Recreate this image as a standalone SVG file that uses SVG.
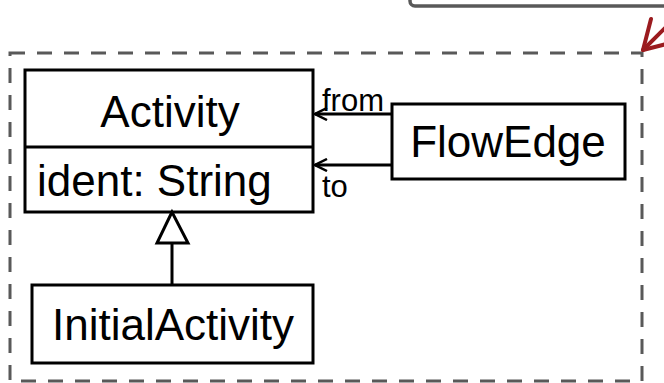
<svg xmlns="http://www.w3.org/2000/svg" width="664" height="383" viewBox="0 0 664 383">
<style>
.box{fill:#fff;stroke:#000;stroke-width:3}
.big{font-family:"Liberation Sans",Arial,sans-serif;font-size:44px;fill:#000}
.lbl{font-family:"Liberation Sans",Arial,sans-serif;font-size:31px;fill:#000}
.edge{fill:none;stroke:#000;stroke-width:3}
</style>
<defs>
<marker id="open" viewBox="0 0 14 14" refX="13" refY="7" markerWidth="14" markerHeight="14" markerUnits="userSpaceOnUse" orient="auto">
<path d="M1,1 L13,7 L1,13" fill="none" stroke="#000" stroke-width="2.5"/>
</marker>
</defs>
<rect x="410" y="-20" width="280" height="26" rx="5" fill="none" stroke="#595959" stroke-width="3.5"/>
<rect x="10" y="53" width="632" height="328" fill="none" stroke="#595959" stroke-width="3" stroke-dasharray="15 12"/>
<g id="red-arrow" fill="none" stroke="#9B1B1F" stroke-width="4" stroke-linecap="round" stroke-linejoin="round">
<line x1="643" y1="50" x2="680" y2="13"/>
<path d="M651,19 L643,50 L674,42"/>
</g>
<g id="Activity">
<rect class="box" x="25" y="70" width="288" height="142"/>
<line x1="25" y1="147" x2="313" y2="147" stroke="#000" stroke-width="3"/>
<text class="big" x="170" y="127" text-anchor="middle">Activity</text>
<text class="big" x="37" y="196">ident: String</text>
</g>
<g id="FlowEdge">
<rect class="box" x="392" y="104" width="233" height="75"/>
<text class="big" x="508" y="157" text-anchor="middle">FlowEdge</text>
</g>
<g id="InitialActivity">
<rect class="box" x="32" y="285" width="281" height="78"/>
<text class="big" x="173" y="340" text-anchor="middle">InitialActivity</text>
</g>
<g id="connectors">
<line class="edge" x1="392" y1="114" x2="315" y2="114" marker-end="url(#open)"/>
<line class="edge" x1="392" y1="165" x2="315" y2="165" marker-end="url(#open)"/>
<text class="lbl" x="322" y="111">from</text>
<text class="lbl" x="322" y="197">to</text>
<line class="edge" x1="172" y1="243" x2="172" y2="285"/>
<path d="M172,212 L157,243 L188,243 Z" fill="#fff" stroke="#000" stroke-width="3" stroke-linejoin="miter"/>
</g>
</svg>
